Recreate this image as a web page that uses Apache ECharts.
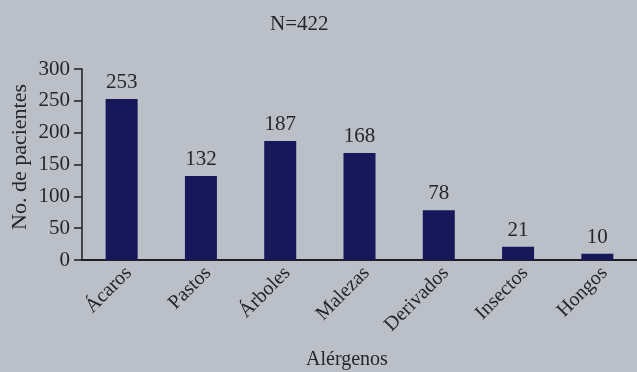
<!DOCTYPE html>
<html>
<head>
<meta charset="utf-8">
<script src="https://cdn.jsdelivr.net/npm/echarts@6/dist/echarts.min.js"></script>
<style>
  html, body { margin: 0; padding: 0; background: #bbbfc8; }
  #chart { width: 637px; height: 372px; }
</style>
</head>
<body>
<div id="chart"></div>
<script>
// Allergen categories and patient counts
const categories = ['Ácaros', 'Pastos', 'Árboles', 'Malezas', 'Derivados', 'Insectos', 'Hongos'];
const patients = [253, 132, 187, 168, 78, 21, 10];
const yTicks = [0, 50, 100, 150, 200, 250, 300];

const serif = '"Liberation Serif", "DejaVu Serif", serif';
const ink = '#26262a';

const chart = echarts.init(document.getElementById('chart'));
chart.setOption({
  backgroundColor: '#bbbfc8',
  animation: false,
  title: [
    { text: 'N=422', left: 265, top: 9,
      textStyle: { fontFamily: serif, fontSize: 21, fontWeight: 'normal', color: ink } },
    { text: 'Alérgenos', left: 301, top: 345,
      textStyle: { fontFamily: serif, fontSize: 20, fontWeight: 'normal', color: ink } }
  ],
  // vertical axis title
  graphic: [{
    type: 'text',
    x: 20, y: 157,
    rotation: Math.PI / 2,
    style: {
      text: 'No. de pacientes',
      font: '22px ' + serif,
      fill: ink,
      textAlign: 'center',
      textVerticalAlign: 'middle'
    }
  }],
  grid: { left: 82, top: 69, width: 558, bottom: 112, containLabel: false },
  xAxis: {
    type: 'category',
    data: categories,
    axisLine: { lineStyle: { color: '#1e1e22', width: 2 } },
    axisTick: { show: false },
    axisLabel: {
      rotate: 45, margin: 3, verticalAlign: 'top',
      fontFamily: serif, fontSize: 20, color: ink
    }
  },
  yAxis: {
    type: 'value',
    min: yTicks[0],
    max: yTicks[yTicks.length - 1],
    interval: yTicks[1] - yTicks[0],
    axisLine: { show: true, lineStyle: { color: '#1e1e22', width: 1.5 } },
    axisTick: { show: true, length: 8, lineStyle: { color: '#1e1e22', width: 1.5 } },
    axisLabel: { margin: 12, fontFamily: serif, fontSize: 21, color: ink },
    splitLine: { show: false }
  },
  series: [{
    type: 'bar',
    data: patients,
    barWidth: 32,
    itemStyle: { color: '#16185a' },
    label: { show: true, position: 'top', distance: 6, fontFamily: serif, fontSize: 21, color: ink }
  }]
});
</script>
</body>
</html>
